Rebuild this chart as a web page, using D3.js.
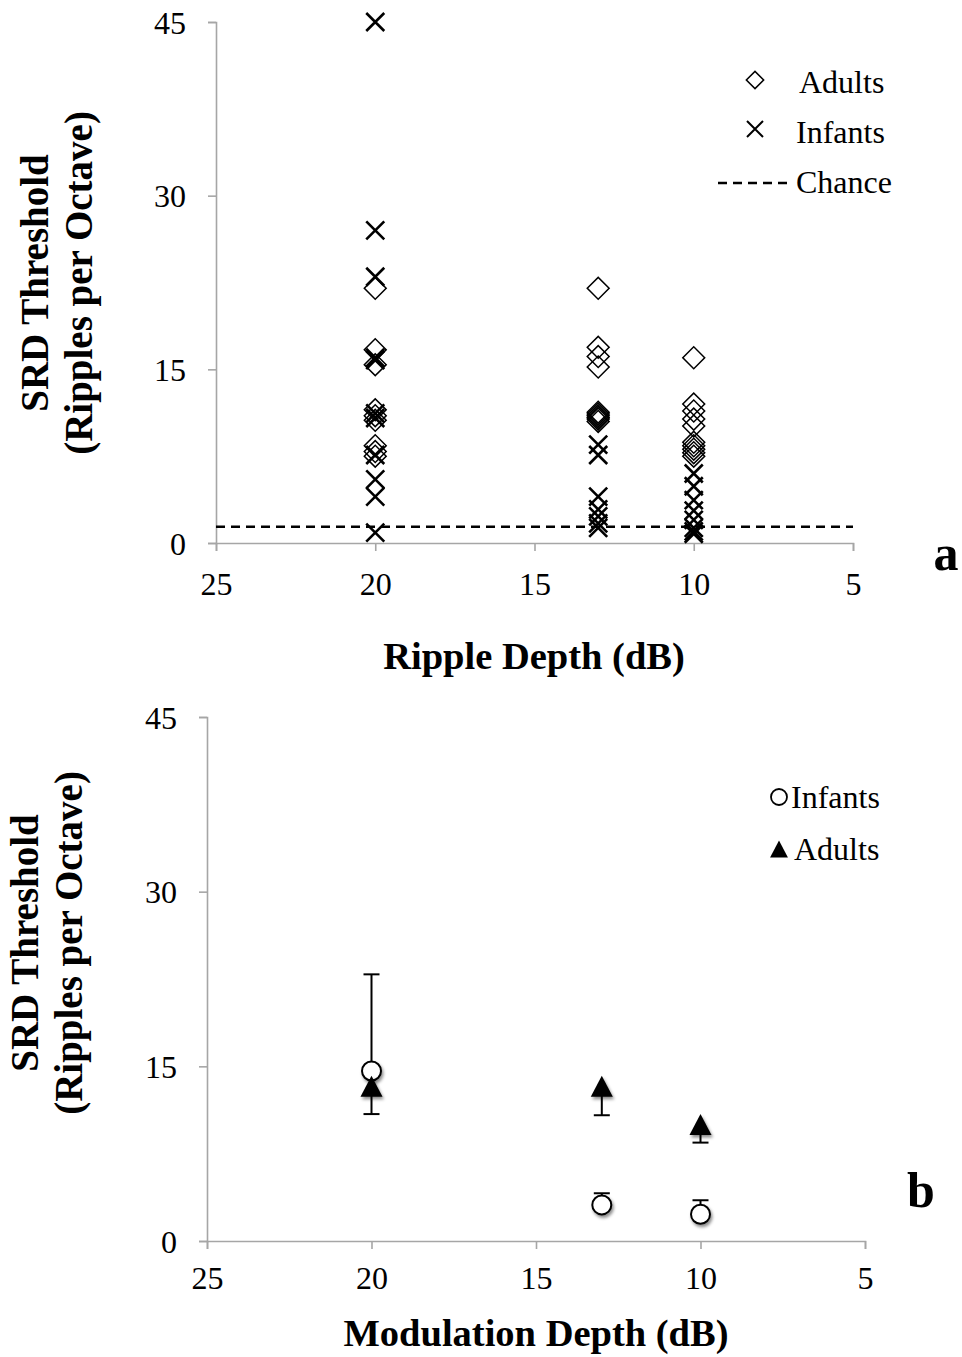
<!DOCTYPE html>
<html><head><meta charset="utf-8">
<script src="https://cdn.jsdelivr.net/npm/d3@7"></script>
<style>
html,body{margin:0;padding:0;background:#fff;}
svg{display:block;font-family:"Liberation Serif","Times New Roman",serif;}
</style></head>
<body>
<svg id="chart" width="962" height="1357"></svg>
<script>
// ---------- Panel a data (individual thresholds) ----------
const depthsA = [20, 13, 10];
const adults20 = [22, 16.7, 15.4, 11.5, 11.0, 10.6, 8.4, 7.9, 7.5];
const adults13 = [22, 16.9, 16.1, 15.2, 11.3, 11.15, 11.0, 10.85, 10.7, 10.5];
const adults10 = [16, 12.0, 11.4, 10.7, 10.1, 8.7, 8.4, 8.1, 7.8, 7.5];
const infants20 = [45, 27, 23, 16.0, 15.8, 11.2, 10.8, 7.6, 5.5, 4.0, 0.9];
const infants13 = [8.5, 7.6, 4.0, 2.9, 2.3, 1.7, 1.3];
const infants10 = [6.0, 4.9, 3.7, 2.8, 2.0, 1.3, 1.0, 0.8];
const chanceLevel = 1.4;
const yTicks = [0, 15, 30, 45];
const xTicks = [25, 20, 15, 10, 5];

// ---------- Panel b data (group means, one-sided error bars) ----------
const depthsB = [20, 13, 10];
const infantMeans = [14.6, 3.1, 2.3];
const infantUpper = [22.9, 4.1, 3.5];
const adultMeans = [13.3, 13.3, 10.0];
const adultLower = [10.9, 10.8, 8.45];

const svg = d3.select("#chart");
const AXIS_COLOR = "#a6a6a6";

const defs = svg.append("defs");
const f = defs.append("filter").attr("id","shadow").attr("x","-50%").attr("y","-50%").attr("width","200%").attr("height","200%");
f.append("feDropShadow").attr("dx",1.5).attr("dy",2.5).attr("stdDeviation",1.8).attr("flood-color","#000").attr("flood-opacity",0.45);

function drawAxes(g, x, y, opts) {
  const yAxis = d3.axisLeft(y).tickValues(yTicks).tickSize(8).tickPadding(22).tickFormat(d3.format("d"));
  const xAxis = d3.axisBottom(x).tickValues(xTicks).tickSize(8).tickPadding(22).tickFormat(d3.format("d"));
  const gy = g.append("g").attr("transform", `translate(${x(25)},0)`).call(yAxis);
  const gx = g.append("g").attr("transform", `translate(0,${y(0)})`).call(xAxis);
  [gy, gx].forEach(a => {
    a.select(".domain").attr("stroke", AXIS_COLOR).attr("stroke-width", 1.6);
    a.selectAll(".tick line").attr("stroke", AXIS_COLOR).attr("stroke-width", 1.6);
    a.selectAll(".tick text").attr("fill", "#000").style("font-family", "Liberation Serif").style("font-size", "32px");
  });
  gy.selectAll(".tick text").attr("dy", "0.35em");
  gx.selectAll(".tick text").attr("dy", "0.71em").attr("y", opts.xTickY);
  // x title
  g.append("text").attr("x", opts.xTitleX).attr("y", opts.xTitleY).attr("text-anchor","middle")
    .style("font-size","38.5px").style("font-weight","bold").text(opts.xTitle);
  // y title (two lines)
  const yt = g.append("text").attr("transform","rotate(-90)").attr("text-anchor","middle")
    .style("font-size","39px").style("font-weight","bold");
  yt.append("tspan").attr("x", -opts.yTitleC).attr("y", opts.yTitleX1).text("SRD Threshold");
  yt.append("tspan").attr("x", -opts.yTitleC).attr("y", opts.yTitleX2).text("(Ripples per Octave)");
  g.append("text").attr("x", opts.letterX).attr("y", opts.letterY).attr("text-anchor","middle")
    .style("font-size","50px").style("font-weight","bold").text(opts.letter);
}

// ================= Panel a =================
const xa = d3.scaleLinear().domain([25, 5]).range([216, 853]);
const ya = d3.scaleLinear().domain([0, 45]).range([543, 22]);
const ga = svg.append("g");
drawAxes(ga, xa, ya, {xTickY: 29, xTitle: "Ripple Depth (dB)", xTitleX: 534, xTitleY: 669,
  yTitleC: 283, yTitleX1: 48, yTitleX2: 92, letter: "a", letterX: 946, letterY: 570});

// chance line
ga.append("line").attr("x1", xa(25)).attr("x2", xa(5)).attr("y1", ya(chanceLevel)).attr("y2", ya(chanceLevel))
  .attr("stroke","#000").attr("stroke-width",2.5).attr("stroke-dasharray","9,6");

const diamond = d3.symbol().type(d3.symbolSquare).size(240);
const adultSets = [adults20, adults13, adults10];
const infantSets = [infants20, infants13, infants10];
const crossPath = (s) => `M${-s},${-s}L${s},${s}M${-s},${s}L${s},${-s}`;

depthsA.forEach((d, i) => {
  ga.selectAll(null).data(adultSets[i]).enter().append("path")
    .attr("d", diamond)
    .attr("transform", v => `translate(${xa(d)},${ya(v)}) rotate(45)`)
    .attr("fill","none").attr("stroke","#000").attr("stroke-width",1.5);
  ga.selectAll(null).data(infantSets[i]).enter().append("path")
    .attr("d", crossPath(9))
    .attr("transform", v => `translate(${xa(d)},${ya(v)})`)
    .attr("fill","none").attr("stroke","#000").attr("stroke-width",2.6);
});

// legend a
const la = ga.append("g");
la.append("path").attr("d", d3.symbol().type(d3.symbolSquare).size(150)).attr("transform","translate(755,80) rotate(45)")
  .attr("fill","none").attr("stroke","#000").attr("stroke-width",1.5);
la.append("text").attr("x",799).attr("y",93).style("font-size","32px").text("Adults");
la.append("path").attr("d", crossPath(8)).attr("transform","translate(755,129)").attr("fill","none").attr("stroke","#000").attr("stroke-width",2);
la.append("text").attr("x",796).attr("y",143).style("font-size","32px").text("Infants");
la.append("line").attr("x1",718).attr("x2",790).attr("y1",183).attr("y2",183).attr("stroke","#000").attr("stroke-width",2.5).attr("stroke-dasharray","9,6");
la.append("text").attr("x",796).attr("y",193).style("font-size","32px").text("Chance");

// ================= Panel b =================
const xb = d3.scaleLinear().domain([25, 5]).range([207, 865]);
const yb = d3.scaleLinear().domain([0, 45]).range([1241, 717]);
const gb = svg.append("g");
drawAxes(gb, xb, yb, {xTickY: 25, xTitle: "Modulation Depth (dB)", xTitleX: 536, xTitleY: 1346,
  yTitleC: 943, yTitleX1: 38, yTitleX2: 82, letter: "b", letterX: 921, letterY: 1207});

const cap = 8;
depthsB.forEach((d, i) => {
  // infant error bars (upper)
  gb.append("line").attr("x1", xb(d)).attr("x2", xb(d)).attr("y1", yb(infantMeans[i])).attr("y2", yb(infantUpper[i]))
    .attr("stroke","#000").attr("stroke-width",2);
  gb.append("line").attr("x1", xb(d)-cap).attr("x2", xb(d)+cap).attr("y1", yb(infantUpper[i])).attr("y2", yb(infantUpper[i]))
    .attr("stroke","#000").attr("stroke-width",2);
  // adult error bars (lower)
  gb.append("line").attr("x1", xb(d)).attr("x2", xb(d)).attr("y1", yb(adultMeans[i])).attr("y2", yb(adultLower[i]))
    .attr("stroke","#000").attr("stroke-width",2);
  gb.append("line").attr("x1", xb(d)-cap).attr("x2", xb(d)+cap).attr("y1", yb(adultLower[i])).attr("y2", yb(adultLower[i]))
    .attr("stroke","#000").attr("stroke-width",2);
});
// infant circles
gb.selectAll(null).data(depthsB).enter().append("circle")
  .attr("cx", d => xb(d)).attr("cy", (d, i) => yb(infantMeans[i])).attr("r", 9.5)
  .attr("fill","#fff").attr("stroke","#000").attr("stroke-width",2).attr("filter","url(#shadow)");
// adult triangles
const tri = (h) => `M0,${-h}L${h*1.05},${h}L${-h*1.05},${h}Z`;
gb.selectAll(null).data(depthsB).enter().append("path")
  .attr("d", tri(10.5))
  .attr("transform", (d, i) => `translate(${xb(d)},${yb(adultMeans[i])})`)
  .attr("fill","#000").attr("filter","url(#shadow)");

// legend b
const lb = gb.append("g");
lb.append("circle").attr("cx",779).attr("cy",797).attr("r",8).attr("fill","#fff").attr("stroke","#000").attr("stroke-width",1.8);
lb.append("text").attr("x",791).attr("y",808).style("font-size","32px").text("Infants");
lb.append("path").attr("d", tri(8.5)).attr("transform","translate(779,849)").attr("fill","#000");
lb.append("text").attr("x",794).attr("y",860).style("font-size","32px").text("Adults");
</script>
</body></html>
